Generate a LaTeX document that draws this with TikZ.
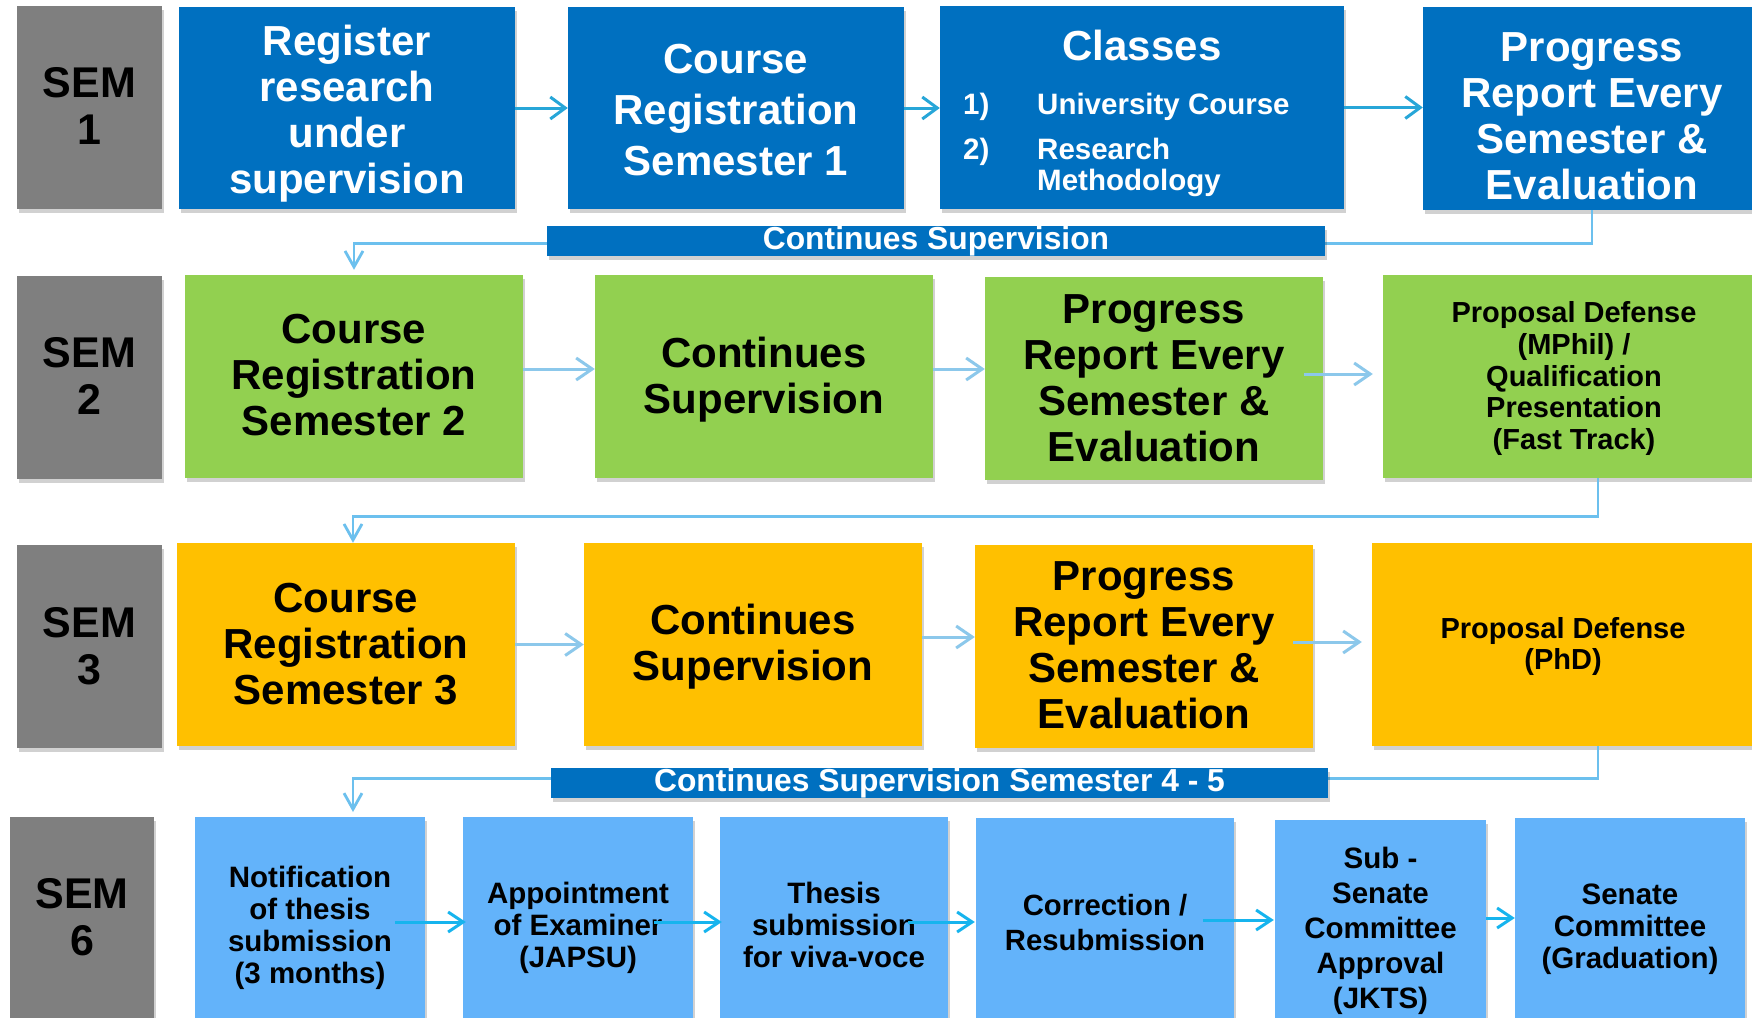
\documentclass[tikz,border=0pt]{standalone}
\usepackage{fontspec}
\setmainfont{Liberation Sans}
\usetikzlibrary{arrows.meta,shadows,calc}
\definecolor{semgray}{HTML}{7F7F7F}
\definecolor{rowblue}{HTML}{0070C0}
\definecolor{rowgreen}{HTML}{92D050}
\definecolor{roworange}{HTML}{FFC000}
\definecolor{rowlblue}{HTML}{63B3FA}
\definecolor{arrA}{HTML}{27A6D8}
\definecolor{arrB}{HTML}{8CC8EB}
\definecolor{arrC}{HTML}{16B4EE}
\definecolor{connc}{HTML}{6CC0EE}
\begin{document}
\begin{tikzpicture}[x=1pt,y=-1pt,
  shad/.style={drop shadow={shadow xshift=2pt,shadow yshift=-4pt,opacity=0.18,fill=black}},
  box/.style={shad, inner sep=0pt},
  sem/.style={box, fill=semgray, minimum width=145, minimum height=203},
  rA/.style={box, fill=rowblue, minimum width=336, minimum height=202},
  rB/.style={box, fill=rowgreen, minimum width=338, minimum height=203},
  rC/.style={box, fill=roworange, minimum width=338, minimum height=203},
  rD/.style={box, fill=rowlblue, minimum width=230, minimum height=214},
  banner/.style={box, fill=rowblue, text=white, minimum height=30, font=\bfseries\fontsize{31.8}{34}\selectfont},
  tx/.style={inner sep=0pt, align=center, text=black},
  tw/.style={tx, text=white},
  bigtxt/.style={font=\bfseries\fontsize{42}{46}\selectfont},
  semtxt/.style={font=\bfseries\fontsize{43}{47}\selectfont},
  smalltxt/.style={font=\bfseries\fontsize{29.5}{32}\selectfont},
  listtxt/.style={inner sep=0pt, text=white, font=\bfseries\fontsize{29.5}{32}\selectfont},
  aA/.style={draw=arrA, line width=3pt, -{Straight Barb[length=15pt,width=22pt]}},
  aB/.style={draw=arrB, line width=3pt, -{Straight Barb[length=16pt,width=22pt]}},
  aC/.style={draw=arrC, line width=3pt, -{Straight Barb[length=15pt,width=20pt]}},
  conn/.style={draw=connc, line width=2.8pt, -{Straight Barb[length=16pt,width=18pt]}}
]
\useasboundingbox (0,0) rectangle (1752,1017);
\clip (0,0) rectangle (1752,1017);
\fill[white] (0,0) rectangle (1752,1017);

% Row 1
\node[sem] (sem1) at (89.5,107.5) {};
\node[tx, semtxt] (sem1t) at ($(sem1)+(0,-1.7)$) {SEM\\1};
\node[rA] (reg1) at (347,108) {};
\node[tw, bigtxt] (reg1t) at ($(reg1)+(0,5.6)$) {Register\\research\\under\\supervision};
\node[rA] (crs1) at (736,108) {};
\node[tw, font=\bfseries\fontsize{42}{51}\selectfont] (crs1t) at ($(crs1)+(0,2.5)$) {Course\\Registration\\Semester 1};
\node[rA, minimum width=404, minimum height=203] (cls1) at (1142,107.5) {};
\node[tw, anchor=base, bigtxt] (clsT) at (1142,60) {Classes};
\node[listtxt, anchor=base west] (n1) at (963,114) {1)};
\node[listtxt, anchor=base west] (i1) at (1037,114) {University Course};
\node[listtxt, anchor=base west] (n2) at (963,159) {2)};
\node[listtxt, anchor=base west] (i2) at (1037,159) {Research};
\node[listtxt, anchor=base west] (i3) at (1037,190) {Methodology};
\node[rA, minimum width=338, minimum height=203] (prog1) at (1592,108.5) {};
\node[tw, bigtxt] (prog1t) at ($(prog1)+(0,8)$) {Progress\\Report Every\\Semester \&\\Evaluation};

% Row 2
\node[sem] (sem2) at (89.5,377.5) {};
\node[tx, semtxt] (sem2t) at ($(sem2)+(0,-1.1)$) {SEM\\2};
\node[rB] (crs2) at (354,376.5) {};
\node[tx, bigtxt] (crs2t) at ($(crs2)+(0,-1.1)$) {Course\\Registration\\Semester 2};
\node[rB] (sup2) at (764,376.5) {};
\node[tx, bigtxt] (sup2t) at ($(sup2)+(0,3.4)$) {Continues\\Supervision};
\node[rB] (prog2) at (1154,378.5) {};
\node[tx, bigtxt] (prog2t) at (prog2) {Progress\\Report Every\\Semester \&\\Evaluation};
\node[rB, minimum width=382] (prop2) at (1574,376.5) {};
\node[tx, font=\bfseries\fontsize{29}{31.6}\selectfont] (prop2t) at ($(prop2)+(0,2)$) {Proposal Defense\\(MPhil) /\\Qualification\\Presentation\\(Fast Track)};

% Row 3
\node[sem] (sem3) at (89.5,646.5) {};
\node[tx, semtxt] (sem3t) at (sem3) {SEM\\3};
\node[rC] (crs3) at (346,644.5) {};
\node[tx, bigtxt] (crs3t) at ($(crs3)+(0,-0.5)$) {Course\\Registration\\Semester 3};
\node[rC] (sup3) at (753,644.5) {};
\node[tx, bigtxt] (sup3t) at ($(sup3)+(0,2.2)$) {Continues\\Supervision};
\node[rC] (prog3) at (1144,646.5) {};
\node[tx, bigtxt] (prog3t) at ($(prog3)+(0,-1.1)$) {Progress\\Report Every\\Semester \&\\Evaluation};
\node[rC, minimum width=382] (prop3) at (1563,644.5) {};
\node[tx, font=\bfseries\fontsize{29}{31}\selectfont] (prop3t) at ($(prop3)+(0,2.2)$) {Proposal Defense\\(PhD)};

% Row 4
\node[sem, minimum width=144, minimum height=214] (sem6) at (82,924) {};
\node[tx, semtxt] (sem6t) at ($(sem6)+(0,-6.7)$) {SEM\\6};
\node[rD] (notif) at (310,924) {};
\node[tx, smalltxt] (notift) at ($(notif)+(0,3.4)$) {Notification\\of thesis\\submission\\(3 months)};
\node[rD] (appt) at (578,924) {};
\node[tx, smalltxt] (apptt) at ($(appt)+(0,3.4)$) {Appointment\\of Examiner\\(JAPSU)};
\node[rD, minimum width=228] (thes) at (834,924) {};
\node[tx, smalltxt] (thest) at ($(thes)+(0,0.5)$) {Thesis\\submission\\for viva-voce};
\node[rD, minimum width=258, minimum height=213] (corr) at (1105,924.5) {};
\node[tx, font=\bfseries\fontsize{29.3}{35}\selectfont] (corrt) at ($(corr)+(0,-2.2)$) {Correction /\\Resubmission};
\node[rD, minimum width=211, minimum height=211] (subs) at (1380.5,925.5) {};
\node[tx, font=\bfseries\fontsize{29.5}{35}\selectfont] (subst) at ($(subs)+(0,5.6)$) {Sub -\\Senate\\Committee\\Approval\\(JKTS)};
\node[rD, minimum height=213] (sen) at (1630,924.5) {};
\node[tx, smalltxt] (sent) at ($(sen)+(0,4.5)$) {Senate\\Committee\\(Graduation)};

% Arrows row 1
\draw[aA] (reg1.east) -- (reg1.east -| crs1.west);
\draw[aA] (crs1.east) -- (crs1.east -| cls1.west);
\draw[aA] (cls1.east) -- (cls1.east -| prog1.west);

% Arrows row 2
\draw[aB] ($(crs2.east)+(0,-7.5)$) -- ($(crs2.east -| sup2.west)+(0,-7.5)$);
\draw[aB] ($(sup2.east)+(0,-7.5)$) -- ($(sup2.east -| prog2.west)+(0,-7.5)$);
\draw[aB] ($(prog2.east)+(-19,-4.5)$) -- ($(prog2.east -| prop2.west)+(-10,-4.5)$);

% Arrows row 3
\draw[aB] (crs3.east) -- (crs3.east -| sup3.west);
\draw[aB] ($(sup3.east)+(0,-7.5)$) -- ($(sup3.east -| prog3.west)+(0,-7.5)$);
\draw[aB] ($(prog3.east)+(-20,-4.5)$) -- ($(prog3.east -| prop3.west)+(-10,-4.5)$);

% Arrows row 4
\draw[aC] ($(notif.east)+(-30,-2)$) -- ($(notif.east -| appt.west)+(3,-2)$);
\draw[aC] ($(appt.east)+(-39,-2)$) -- ($(appt.east -| thes.west)+(2,-2)$);
\draw[aC] ($(thes.east)+(-40,-2)$) -- ($(thes.east -| corr.west)+(-1,-2)$);
\draw[aC] ($(corr.east)+(-31,-4.5)$) -- ($(corr.east -| subs.west)+(-1,-4.5)$);
\draw[aC] ($(subs.east)+(0,-7.5)$) -- ($(subs.east -| sen.west)+(0,-7.5)$);

% Connectors between rows
\draw[conn] (prog1.south) -- ++(0,33) -| ($(crs2.north)+(0,-5)$);
\draw[conn] ($(prop2.south)+(24,0)$) -- ++(0,38) -| ($(crs3.north)+(7,0)$);
\coordinate (c4) at (353,812);
\draw[conn] ($(prop3.south)+(35,0)$) -- ++(0,32) -| (c4);

% Banners
\node[banner, minimum width=778] (ban1) at (936,241) {Continues Supervision};
\node[banner, minimum width=777] (ban2) at (939.5,783) {Continues Supervision Semester 4 - 5};
\end{tikzpicture}
\end{document}
